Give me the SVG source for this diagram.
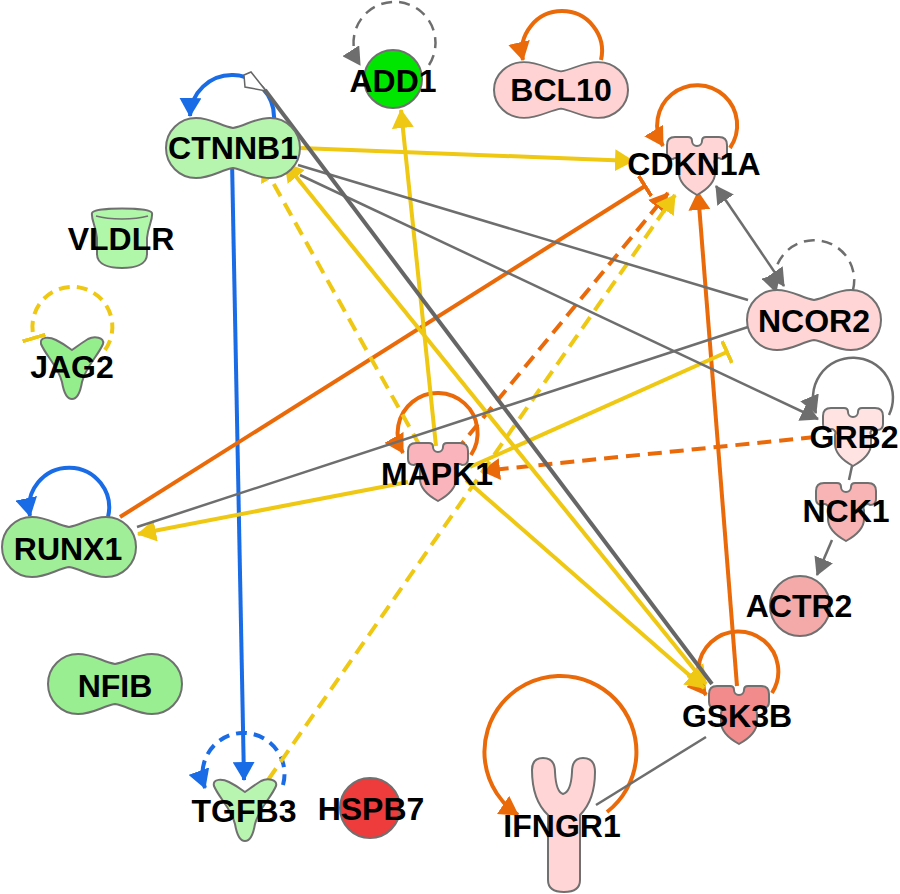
<svg xmlns="http://www.w3.org/2000/svg" width="900" height="894" viewBox="0 0 900 894">
<style>
.e{fill:none;stroke-linecap:butt}
.b{stroke:#1a6be6;stroke-width:4}
.o{stroke:#ea6a0a;stroke-width:4}
.y{stroke:#eec812;stroke-width:4}
.g{stroke:#6e6e6e;stroke-width:2.5}
.d{stroke-dasharray:14 8}
.ld{stroke-dasharray:11 7}
.n{stroke:#707070;stroke-width:2}
.t{font-family:"Liberation Sans",Arial,sans-serif;font-weight:bold;font-size:32px;text-anchor:middle;fill:#000}
</style>
<defs>
<marker id="aB" viewBox="0 0 19 22" refX="18" refY="11" markerWidth="19" markerHeight="22" markerUnits="userSpaceOnUse" orient="auto"><path d="M0,0 L19,11 L0,22 z" fill="#1a6be6"/></marker>
<marker id="aO" viewBox="0 0 19 22" refX="18" refY="11" markerWidth="19" markerHeight="22" markerUnits="userSpaceOnUse" orient="auto"><path d="M0,0 L19,11 L0,22 z" fill="#ea6a0a"/></marker>
<marker id="aY" viewBox="0 0 19 22" refX="18" refY="11" markerWidth="19" markerHeight="22" markerUnits="userSpaceOnUse" orient="auto-start-reverse"><path d="M0,0 L19,11 L0,22 z" fill="#eec812"/></marker>
<marker id="aG" viewBox="0 0 18 20" refX="17" refY="10" markerWidth="18" markerHeight="20" markerUnits="userSpaceOnUse" orient="auto-start-reverse"><path d="M0,0 L18,10 L0,20 z" fill="#6e6e6e"/></marker>
<marker id="tO" viewBox="0 0 4 24" refX="2" refY="12" markerWidth="4" markerHeight="24" markerUnits="userSpaceOnUse" orient="auto"><rect x="0" y="0" width="4" height="24" fill="#ea6a0a"/></marker>
<marker id="tY" viewBox="0 0 4 24" refX="2" refY="12" markerWidth="4" markerHeight="24" markerUnits="userSpaceOnUse" orient="auto"><rect x="0" y="0" width="4" height="24" fill="#eec812"/></marker>
<path id="dumb" d="M0,-20 C12,-22 22,-30 37,-30 A30,30 0 0 1 37,30 C22,30 12,22 0,20 C-12,22 -22,30 -37,30 A30,30 0 0 1 -37,-30 C-22,-30 -12,-22 0,-20 Z"/>
<path id="kin" d="M-22,-28 L-9,-28 Q-5,-28 -5,-24 A5,5 0 0 0 5,-24 Q5,-28 9,-28 L22,-28 Q30,-28 30,-20 L30,-12 Q30,-6 24,-6 A4,4 0 0 0 18,-1 L18,8 Q18,20 0,30 Q-18,20 -18,8 L-18,-1 A4,4 0 0 0 -24,-6 Q-30,-6 -30,-12 L-30,-20 Q-30,-28 -22,-28 Z"/>
<path id="ylig" d="M-31,-24 C-33,-32 -22,-31 -16,-28 C-8,-24 -3,-20 0,-18 C3,-20 8,-24 16,-29 C22,-32 33,-31 31,-24 C26,-12 14,-2 10,14 C8,26 4,31 0,31 C-4,31 -8,26 -10,14 C-14,-2 -26,-12 -31,-24 Z"/>
</defs>
<rect width="900" height="894" fill="#fff"/>
<g id="edges">
<path class="e b" d="M274,118 A40,40 0 1 0 190,116" marker-end="url(#aB)"/>
<path class="e b" d="M108,517 A40,40 0 1 0 30,516" marker-end="url(#aB)"/>
<path class="e b ld" d="M283,785 A41,41 0 1 0 205,788" marker-end="url(#aB)"/>
<path class="e b" d="M232,160 L244,780" marker-end="url(#aB)"/>
<path class="e o" d="M601,60 A40,40 0 1 0 523,60" marker-end="url(#aO)"/>
<path class="e o" d="M730,148 A40,40 0 1 0 663,146" marker-end="url(#aO)"/>
<path class="e o" d="M471,455 A40,40 0 1 0 403,453" marker-end="url(#aO)"/>
<path class="e o" d="M772,693 A40,40 0 1 0 706,695" marker-end="url(#aO)"/>
<path class="e o" d="M607,812 A76,76 0 1 0 518,815" marker-end="url(#aO)"/>
<path class="e o" d="M120,517 L645,186" marker-end="url(#tO)"/>
<path class="e o d" d="M455,452 L668,193" marker-end="url(#aO)"/>
<path class="e o" d="M737,686 L698,192" marker-end="url(#aO)"/>
<path class="e o d" d="M815,437 L482,471" marker-end="url(#aO)"/>
<path class="e y ld" d="M105,350 A40,40 0 1 0 34,338" marker-end="url(#tY)"/>
<path class="e y" d="M300,148 L633,161" marker-end="url(#aY)"/>
<path class="e y" d="M436,446 L401,110" marker-end="url(#aY)"/>
<path class="e y d" d="M420,446 L262,163" marker-end="url(#aY)"/>
<path class="e y" d="M285,163 L706,684" marker-start="url(#aY)" marker-end="url(#aY)"/>
<path class="e y" d="M466,480 L704,688" marker-end="url(#aY)"/>
<path class="e y d" d="M268,780 L675,195" marker-end="url(#aY)"/>
<path class="e y" d="M408,482 L138,534" marker-end="url(#aY)"/>
<path class="e y" d="M470,467 L727,352" marker-end="url(#tY)"/>
<path class="e g ld" d="M429,65 A41,41 0 1 0 360,65" marker-end="url(#aG)"/>
<path class="e g ld" d="M853,290 A40,40 0 1 0 776,292" marker-end="url(#aG)"/>
<path class="e g" d="M889,415 A40,40 0 1 0 816,413" marker-end="url(#aG)"/>
<path class="e g" d="M716,186 L784,286" marker-start="url(#aG)" marker-end="url(#aG)"/>
<path class="e g" d="M298,165 L748,300"/>
<path class="e g" d="M300,175 L818,419" marker-end="url(#aG)"/>
<path class="e g" d="M137,527 L748,327"/>
<path class="e" d="M265,90 L712,684" stroke="#666" stroke-width="4"/>
<polygon points="244,75 251,72 266,91 245,87" fill="#fff" stroke="#666" stroke-width="1.5"/>
<path class="e g" d="M852,466 L849,480"/>
<path class="e g" d="M832,540 L817,575" marker-end="url(#aG)"/>
<path class="e g" d="M596,805 L706,737"/>
</g>
<g id="CTNNB1"><use href="#dumb" transform="translate(233,148)" fill="#b5f5ae" class="n"/><text class="t" x="233" y="159">CTNNB1</text></g>
<g id="ADD1"><circle cx="393" cy="79" r="29" fill="#00e600" class="n"/><text class="t" x="393" y="92">ADD1</text></g>
<g id="BCL10"><use href="#dumb" transform="translate(561,90) scale(1,0.93)" fill="#ffd3d3" class="n"/><text class="t" x="561" y="101">BCL10</text></g>
<g id="CDKN1A"><use href="#kin" transform="translate(697,165)" fill="#ffd5d5" class="n"/><text class="t" x="694" y="175">CDKN1A</text></g>
<g id="VLDLR"><path d="M92,213 C94,207 150,207 152,213 C153,220 148,226 147,238 L147,254 C147,265 134,268 122,268 C110,268 97,265 97,254 L97,238 C96,226 91,220 92,213 Z" fill="#b0f7aa" class="n"/><path d="M96,216 C110,220 134,220 148,216" fill="none" stroke="#707070" stroke-width="1.5"/><text class="t" x="121" y="250">VLDLR</text></g>
<g id="JAG2"><use href="#ylig" transform="translate(72,368)" fill="#94ee8c" class="n"/><text class="t" x="72" y="378">JAG2</text></g>
<g id="NCOR2"><use href="#dumb" transform="translate(814,320)" fill="#ffd5d5" class="n"/><text class="t" x="814" y="332">NCOR2</text></g>
<g id="GRB2"><use href="#kin" transform="translate(853,436)" fill="#ffe3e3" class="n"/><text class="t" x="854" y="448">GRB2</text></g>
<g id="NCK1"><use href="#kin" transform="translate(846,511)" fill="#f8b4b4" class="n"/><text class="t" x="846" y="522">NCK1</text></g>
<g id="ACTR2"><circle cx="800" cy="606" r="30" fill="#f5aaaa" class="n"/><text class="t" x="799" y="617">ACTR2</text></g>
<g id="MAPK1"><use href="#kin" transform="translate(438,471)" fill="#f9b5bb" class="n"/><text class="t" x="437" y="485">MAPK1</text></g>
<g id="RUNX1"><use href="#dumb" transform="translate(69,547)" fill="#a0ef98" class="n"/><text class="t" x="68" y="560">RUNX1</text></g>
<g id="NFIB"><use href="#dumb" transform="translate(115,684)" fill="#98ee90" class="n"/><text class="t" x="115" y="697">NFIB</text></g>
<g id="GSK3B"><use href="#kin" transform="translate(739,714)" fill="#f28b8b" class="n"/><text class="t" x="737" y="727">GSK3B</text></g>
<g id="TGFB3"><use href="#ylig" transform="translate(245,810)" fill="#b8f5b0" class="n"/><text class="t" x="244" y="822">TGFB3</text></g>
<g id="HSPB7"><circle cx="370" cy="808" r="30" fill="#ee3b3b" class="n"/><text class="t" x="371" y="820">HSPB7</text></g>
<g id="IFNGR1"><path d="M532,770 Q532,758 543,758 Q555,758 555,772 Q556,792 563,794 Q571,792 572,772 Q572,758 583,758 Q595,758 595,772 Q595,800 580,815 L580,880 Q580,892 564,892 Q548,892 548,880 L548,815 Q532,800 532,770 Z" fill="#ffd5d5" class="n"/><text class="t" x="562" y="837">IFNGR1</text></g>
</svg>
